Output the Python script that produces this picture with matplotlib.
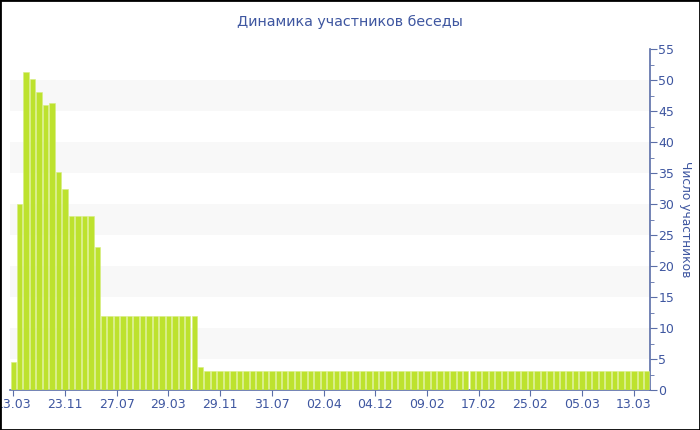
import numpy as np
import matplotlib
matplotlib.use('Agg')
import matplotlib.pyplot as plt
from matplotlib.patches import Rectangle
from matplotlib.ticker import MultipleLocator

# participants per period
peak = [4.5, 30, 51.3, 50.2, 48, 46, 46.3, 35.1, 32.5, 28, 28, 28, 28, 23]
plateau = [12] * 15
tail = [3.7] + [3] * 69
values = peak + plateau + tail

tick_labels = ['13.03', '23.11', '27.07', '29.03', '29.11', '31.07', '02.04',
               '04.12', '09.02', '17.02', '25.02', '05.03', '13.03']
tick_step = 8

title = 'Динамика участников беседы'
ylabel = 'Число участников'

blue = '#3e56a0'
axis_col = '#5b6ea8'

fig = plt.figure(figsize=(7, 4.3), dpi=100)
ax = fig.add_axes([10/700, 1 - 390/430, 640/700, 341/430])

x = np.arange(len(values))
ax.bar(x, values, width=0.84, color='#bde22e', edgecolor='#d6ee80',
       linewidth=0.4, zorder=3)

ax.set_xlim(-0.5, len(values) - 0.5)
ax.set_ylim(0, 55)

# alternating bands
for lo in range(5, 55, 10):
    ax.axhspan(lo, lo + 5, color='#f8f8f8', zorder=0, lw=0)

ax.yaxis.tick_right()
ax.yaxis.set_label_position('right')
ax.yaxis.set_major_locator(MultipleLocator(5))
ax.yaxis.set_minor_locator(MultipleLocator(2.5))
ax.set_xticks(x[::tick_step])
ax.set_xticklabels(tick_labels)

for s in ['top', 'left']:
    ax.spines[s].set_visible(False)
for s in ['bottom', 'right']:
    ax.spines[s].set_color(axis_col)
    ax.spines[s].set_linewidth(1.2)

ax.tick_params(axis='x', colors=axis_col, labelcolor=blue, length=4,
               labelsize=9, pad=2)
ax.tick_params(axis='y', which='major', colors=axis_col, labelcolor=blue,
               length=5, labelsize=9, pad=1)
ax.tick_params(axis='y', which='minor', colors=axis_col, length=3)

ax.set_ylabel(ylabel, rotation=270, color=blue, fontsize=8.8,
              va='center', ha='center')
ax.yaxis.set_label_coords(1.055, 0.5)
fig.text(0.5, 1 - 22/430, title, ha='center', va='center', color=blue,
         fontsize=10.3)

fig.patches.append(Rectangle((0, 0), 1, 1, transform=fig.transFigure,
                             fill=False, edgecolor='black', lw=2))

fig.savefig('out.png', dpi=100)
